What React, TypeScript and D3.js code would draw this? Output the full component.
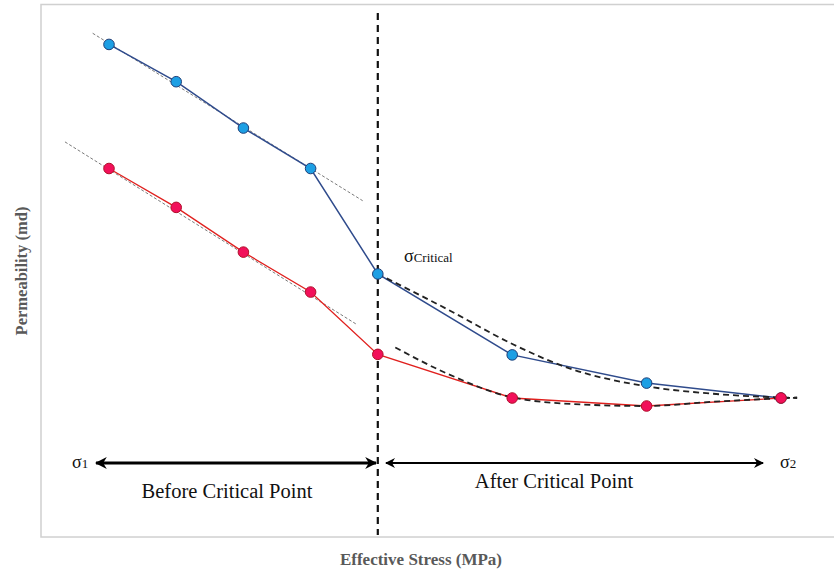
import React from "react";
import * as d3 from "d3";

// Effective stress steps (arbitrary units) and permeability values (arbitrary units)
const stress = [1, 2, 3, 4, 5, 7, 9, 11];
const permBlue = [9.25, 8.55, 7.68, 6.92, 4.94, 3.42, 2.89, 2.61];
const permRed = [6.92, 6.19, 5.35, 4.6, 3.43, 2.61, 2.46, 2.61];

// Linear trends before critical point (endpoints)
const trendBlueX = [0.757, 4.775];
const trendBlueY = [9.46, 6.315];
const trendRedX = [0.345, 4.676];
const trendRedY = [7.42, 4.0];

// Fitted curves after critical point
const fitBlueX = [5.0, 6.03, 7.01, 7.82, 9.0, 9.99, 11.24];
const fitBlueY = [4.94, 4.28, 3.62, 3.18, 2.83, 2.69, 2.61];
const fitRedX = [5.26, 6.03, 7.01, 8.01, 9.0, 9.99, 11.24];
const fitRedY = [3.56, 3.07, 2.62, 2.49, 2.46, 2.54, 2.62];

const criticalStress = 5;

const W = 834;
const H = 571;

export default function App() {
  const x = d3.scaleLinear().domain([0, 12]).range([41.8, 848.2]);
  const y = d3.scaleLinear().domain([0, 10]).range([537, 4.5]);

  const line = d3
    .line<[number, number]>()
    .x((d) => x(d[0]))
    .y((d) => y(d[1]));
  const curve = d3
    .line<[number, number]>()
    .x((d) => x(d[0]))
    .y((d) => y(d[1]))
    .curve(d3.curveMonotoneX);

  const blue = stress.map((s, i) => [s, permBlue[i]] as [number, number]);
  const red = stress.map((s, i) => [s, permRed[i]] as [number, number]);
  const tB = trendBlueX.map((v, i) => [v, trendBlueY[i]] as [number, number]);
  const tR = trendRedX.map((v, i) => [v, trendRedY[i]] as [number, number]);
  const fB = fitBlueX.map((v, i) => [v, fitBlueY[i]] as [number, number]);
  const fR = fitRedX.map((v, i) => [v, fitRedY[i]] as [number, number]);

  const xc = x(criticalStress);
  const serif = "'Liberation Serif', 'Times New Roman', serif";
  const arrowY = 463;

  return (
    <svg
      width={W}
      height={H}
      style={{ position: "absolute", left: 0, top: 0, background: "#fff" }}
      fontFamily={serif}
    >
      <defs>
        <marker id="ahL" viewBox="0 0 10 10" refX="9" refY="5" markerWidth="4" markerHeight="4" orient="auto-start-reverse">
          <path d="M0,0 L10,5 L0,10 L3,5 z" fill="#000" />
        </marker>
        <marker id="ahR" viewBox="0 0 10 10" refX="9" refY="5" markerWidth="5" markerHeight="5" orient="auto-start-reverse">
          <path d="M0,0 L10,5 L0,10 L3,5 z" fill="#000" />
        </marker>
      </defs>

      {/* plot frame */}
      <rect x={41} y={4.5} width={900} height={532.5} fill="none" stroke="#d0d0d0" strokeWidth={1.5} />

      {/* critical stress vertical */}
      <line x1={xc} x2={xc} y1={13} y2={535} stroke="#111" strokeWidth={2.2} strokeDasharray="7,5" />

      {/* trend lines */}
      <path d={line(tB) || ""} fill="none" stroke="#7a7a7a" strokeWidth={1} strokeDasharray="3,2" />
      <path d={line(tR) || ""} fill="none" stroke="#7a7a7a" strokeWidth={1} strokeDasharray="3,2" />

      {/* data lines */}
      <path d={line(blue) || ""} fill="none" stroke="#2f4b8c" strokeWidth={1.5} />
      <path d={line(red) || ""} fill="none" stroke="#e0201e" strokeWidth={1.3} />

      {/* fitted curves */}
      <path d={curve(fB) || ""} fill="none" stroke="#222" strokeWidth={1.8} strokeDasharray="6,4" />
      <path d={curve(fR) || ""} fill="none" stroke="#222" strokeWidth={1.8} strokeDasharray="6,4" />

      {/* markers */}
      {blue.map((d, i) => (
        <circle key={"b" + i} cx={x(d[0])} cy={y(d[1])} r={5.3} fill="#1d9fe4" stroke="#1f3f78" strokeWidth={1} />
      ))}
      {red.map((d, i) => (
        <circle key={"r" + i} cx={x(d[0])} cy={y(d[1])} r={5.3} fill="#f2105a" stroke="#b0102a" strokeWidth={1} />
      ))}

      {/* sigma critical */}
      <text x={404} y={262} fontSize={18} fill="#111">
        σ<tspan fontSize={13}>Critical</tspan>
      </text>

      {/* arrows */}
      <line x1={96} x2={376} y1={arrowY} y2={arrowY} stroke="#000" strokeWidth={3} markerStart="url(#ahL)" markerEnd="url(#ahL)" />
      <line x1={386} x2={763} y1={arrowY} y2={arrowY} stroke="#000" strokeWidth={2} markerStart="url(#ahR)" markerEnd="url(#ahR)" />
      <text x={72} y={468} fontSize={18} fill="#111">
        σ<tspan fontSize={13}>1</tspan>
      </text>
      <text x={780} y={468} fontSize={18} fill="#111">
        σ<tspan fontSize={13}>2</tspan>
      </text>
      <text x={227} y={498} fontSize={20.5} textAnchor="middle" fill="#111">
        Before Critical Point
      </text>
      <text x={554} y={488} fontSize={20.5} textAnchor="middle" fill="#111">
        After Critical Point
      </text>

      {/* axis titles */}
      <text x={421} y={565} fontSize={17} fontWeight="bold" textAnchor="middle" fill="#595959">
        Effective Stress (MPa)
      </text>
      <text
        transform={`translate(27,${271}) rotate(-90)`}
        fontSize={16.5}
        fontWeight="bold"
        textAnchor="middle"
        fill="#595959"
      >
        Permeability (md)
      </text>
    </svg>
  );
}
